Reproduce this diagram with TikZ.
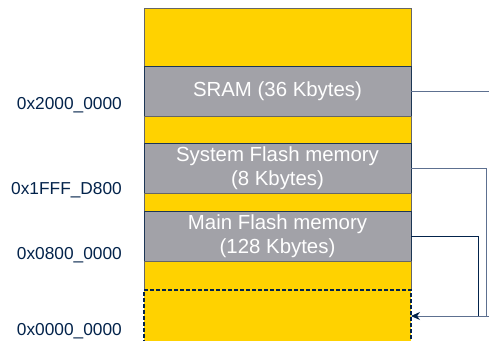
\documentclass[tikz,border=0pt]{standalone}
\usepackage{fontspec}
\setmainfont{Liberation Sans}
\usepackage{xcolor}
\usepackage{tikz}
\usetikzlibrary{positioning,arrows.meta}
\definecolor{styellow}{HTML}{FFD200}
\definecolor{stgray}{HTML}{A2A2A8}
\definecolor{stnavy}{HTML}{03234B}
\definecolor{stlink}{HTML}{5D7090}
\tikzset{>={Stealth[length=9pt,width=8pt,color=stnavy]},
  region/.style={draw, minimum width=267pt, outer sep=0pt, inner sep=0pt},
  gap/.style={region, fill=styellow, draw=gray!80!black, line width=0.5pt},
  memblk/.style={region, fill=stgray, draw=stnavy!80!gray, line width=0.8pt, minimum height=50pt,
    text=white, align=center, font=\fontsize{20.4}{24}\selectfont},
  addr/.style={anchor=base east, inner sep=0pt, text=stnavy, font=\fontsize{17.3}{20}\selectfont},
  link/.style={draw=stlink, line width=0.8pt}}
\begin{document}
\begin{tikzpicture}[x=1pt,y=-1pt]
      \useasboundingbox (0,0) rectangle (489,340);
      \clip (0,0) rectangle (489,340);
      % memory column
      \node[gap, anchor=north west, minimum height=58pt] (gtop) at (144,8) {};
      \node[memblk, below=0pt of gtop] (sram) {SRAM (36 Kbytes)};
      \node[gap, below=0pt of sram, minimum height=27pt] (gone) {};
      \node[memblk, below=0pt of gone] (sysflash) {System Flash memory\\(8 Kbytes)};
      \node[gap, below=0pt of sysflash, minimum height=18pt] (gtwo) {};
      \node[memblk, below=0pt of gtwo] (mainflash) {Main Flash memory\\(128 Kbytes)};
      \node[gap, below=0pt of mainflash, minimum height=29pt] (gthree) {};
      \node[region, fill=styellow, draw=stnavy, dashed, dash pattern=on 4pt off 2pt, line width=1.3pt,
        below=0pt of gthree, minimum height=52pt, anchor=north] (boot) {};
      % addresses
      \node[addr] (asram) at (122,109) {0x2000\_0000};
      \node[addr] (asys) at (122,194) {0x1FFF\_D800};
      \node[addr] (amain) at (122,259) {0x0800\_0000};
      \node[addr] (aboot) at (122,335) {0x0000\_0000};
      % boot selection lines
      \coordinate (sramend) at (489,91);
      \coordinate (bootin) at (489,316);
      \coordinate (sysdrop) at (486,0);
      \coordinate (maindrop) at (478,0);
      \draw[link] (sram.east) -- (sramend);
      \draw[link] (sysflash.east) -| (sysdrop |- bootin);
      \draw[link, draw=stnavy] (mainflash.east) -| (maindrop |- bootin);
      \draw[link, ->] (bootin) -- (boot.east);
    \end{tikzpicture}
\end{document}
